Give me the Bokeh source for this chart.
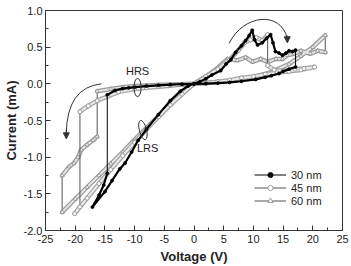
import numpy as np
from bokeh.plotting import figure
from bokeh.models import (Range1d, FixedTicker, PrintfTickFormatter, Legend,
                          LegendItem, Arrow, NormalHead)
from bokeh.embed import file_html
from bokeh.resources import INLINE
from bokeh.core.properties import value

# ---------------- data ----------------
v30 = [0, -2, -4, -6, -8, -10, -11, -12, -13.3, -14.6,
       -14.6, -15.2, -16, -17.1,
       -15, -13.8, -12.5, -11.6, -10.5, -9.4, -8, -6, -4, -2.3, -1, 0,
       1, 2, 3, 4.5, 5.4, 6.2, 7, 8, 8.7, 9.3, 9.8, 10.2, 10.7, 11.5, 12.2, 12.9,
       13.3, 13.7, 14.3, 14.9, 15.5, 16, 16.6, 17.1,
       17.1, 16, 15, 14.3, 13, 12, 10.4, 8, 6, 4, 2, 0]
i30 = [0, -0.005, -0.012, -0.02, -0.03, -0.045, -0.055, -0.065, -0.09, -0.15,
       -1.22, -1.38, -1.52, -1.68,
       -1.47, -1.32, -1.16, -1.08, -0.93, -0.77, -0.62, -0.42, -0.23, -0.1, -0.03, 0,
       0.03, 0.07, 0.12, 0.18, 0.27, 0.33, 0.43, 0.52, 0.59, 0.66, 0.73, 0.6, 0.53, 0.56, 0.62, 0.67,
       0.56, 0.44, 0.42, 0.39, 0.42, 0.45, 0.44, 0.46,
       0.23, 0.2, 0.17, 0.14, 0.11, 0.09, 0.06, 0.035, 0.02, 0.01, 0.003, 0]

v45 = [0, -2, -4, -6, -8, -10, -12.7, -14.5, -16.3, -17.8, -19.2,
       -19.2, -20.1,
       -18, -16, -14, -12, -10, -8, -6, -4, -2, 0,
       2, 4, 6, 7.5, 8.5, 9.5, 10.5, 11.5, 12.4,
       12.4, 13.5, 15, 17, 18.5, 20.3,
       18, 16, 14, 12, 10, 8, 6, 4, 2, 0]
i45 = [0, -0.01, -0.025, -0.04, -0.055, -0.07, -0.11, -0.17, -0.23, -0.3, -0.38,
       -1.68, -1.77,
       -1.56, -1.36, -1.17, -0.98, -0.8, -0.62, -0.45, -0.29, -0.14, 0,
       0.1, 0.2, 0.33, 0.46, 0.56, 0.6, 0.63, 0.59, 0.67,
       0.25, 0.19, 0.18, 0.2, 0.21, 0.23,
       0.19, 0.17, 0.15, 0.13, 0.1, 0.08, 0.05, 0.03, 0.01, 0]

v60 = [0, -2, -4, -6, -8, -10, -12, -14, -16.3,
       -16.3, -17, -18, -19, -19.5, -20.2, -21, -22.2,
       -22.2, -20, -18, -16, -14, -12, -10, -8, -6, -4, -2, 0,
       2, 4, 5.65, 7.3, 8.7, 9.85, 11.2, 12.4, 13.8, 14.9, 15.7, 16.8, 18, 19.6, 20.8, 22.1,
       22.1, 20, 18, 16, 13, 10, 7, 4, 2, 0]
i60 = [0, -0.005, -0.01, -0.015, -0.022, -0.03, -0.045, -0.07, -0.1,
       -0.72, -0.77, -0.83, -0.9, -1.0, -1.08, -1.13, -1.25,
       -1.75, -1.57, -1.41, -1.25, -1.09, -0.93, -0.76, -0.6, -0.44, -0.28, -0.13, 0,
       0.1, 0.22, 0.34, 0.32, 0.36, 0.3, 0.34, 0.3, 0.34, 0.34, 0.39, 0.41, 0.45, 0.41, 0.45, 0.43,
       0.66, 0.5, 0.38, 0.27, 0.16, 0.09, 0.05, 0.02, 0.01, 0]

series_labels = ["30 nm", "45 nm", "60 nm"]
x_ticks = [-25, -20, -15, -10, -5, 0, 5, 10, 15, 20, 25]
y_ticks = [-2.0, -1.5, -1.0, -0.5, 0.0, 0.5, 1.0]

FONT = "Liberation Sans"


def band(v, i):
    """Split a sweep at vertical jumps (equal consecutive voltages)."""
    bv, bi = [v[0]], [i[0]]
    for k in range(1, len(v)):
        if v[k] == v[k - 1]:
            bv.append(np.nan)
            bi.append(np.nan)
        bv.append(v[k])
        bi.append(i[k])
    return bv, bi


p = figure(width=351, height=266, x_range=Range1d(-25, 25), y_range=Range1d(-2, 1),
           output_backend="svg", toolbar_location=None,
           min_border_left=44, min_border_right=9, min_border_top=10, min_border_bottom=36)
p.grid.visible = False
p.outline_line_color = "#333333"
p.outline_line_width = 1
p.background_fill_color = "white"
p.border_fill_color = "white"

minor_x = [float(t) for t in np.arange(-25, 25.01, 2.5)]
minor_y = [float(t) for t in np.arange(-2, 1.001, 0.25)]
p.xaxis.ticker = FixedTicker(ticks=x_ticks, minor_ticks=minor_x)
p.yaxis.ticker = FixedTicker(ticks=y_ticks, minor_ticks=minor_y)
p.xaxis.formatter = PrintfTickFormatter(format="%d")
p.yaxis.formatter = PrintfTickFormatter(format="%.1f")
for ax in (p.xaxis[0], p.yaxis[0]):
    ax.axis_line_color = "#333333"
    ax.major_tick_line_color = "#333333"
    ax.minor_tick_line_color = "#333333"
    ax.major_tick_in = 5
    ax.major_tick_out = 0
    ax.minor_tick_in = 3
    ax.minor_tick_out = 0
    ax.major_label_text_font = FONT
    ax.major_label_text_font_size = "11px"
    ax.major_label_text_color = "#222222"
    ax.axis_label_text_font = FONT
    ax.axis_label_text_font_size = "13px"
    ax.axis_label_text_font_style = "bold"
    ax.axis_label_text_color = "#222222"
p.xaxis.major_label_standoff = 4
p.yaxis.major_label_standoff = 3
p.xaxis.axis_label = "Voltage (V)"
p.yaxis.axis_label = "Current (mA)"
p.xaxis.axis_label_standoff = 3
p.yaxis.axis_label_standoff = 2

legend_items = []
styles = [
    (v60, i60, "60 nm", "triangle", "white", "#8a8a8a", 4, "#9c9c9c", "#e4e4e4"),
    (v45, i45, "45 nm", "circle", "white", "#8a8a8a", 4, "#a4a4a4", "#ececec"),
    (v30, i30, "30 nm", "circle", "black", "black", 3, "black", None),
]
made = {}
for v, i, lab, mk, fc, lc, sz, outer, inner in styles:
    thin = p.line(v, i, line_color="#555555" if inner else "black", line_width=1)
    bv, bi = band(v, i)
    if inner:
        p.line(bv, bi, line_color=outer, line_width=4.5, line_join="round", line_cap="round")
        p.line(bv, bi, line_color=inner, line_width=2, line_join="round", line_cap="round")
    else:
        p.line(bv, bi, line_color=outer, line_width=2.2, line_join="round", line_cap="round")
    sc = p.scatter(v, i, marker=mk, size=sz, fill_color=fc, line_color=lc, line_width=0.8)
    made[lab] = (thin, sc)

for lab in series_labels:
    legend_items.append(LegendItem(label=lab, renderers=list(made[lab])))

legend = Legend(items=legend_items, location=(209, 23), padding=0, margin=0, spacing=0,
                glyph_height=13, label_height=13, glyph_width=32, label_standoff=5,
                border_line_alpha=0, background_fill_alpha=0,
                label_text_font=FONT, label_text_font_size="11px", label_text_color="#222222")
p.add_layout(legend)

# annotations: ellipses, labels, arrows
p.ellipse(x=[-9.5], y=[-0.05], width=1.2, height=0.25, fill_alpha=0,
          line_color="#333333", line_width=1)
p.ellipse(x=[-8.6], y=[-0.63], width=1.2, height=0.27, angle=0.25, fill_alpha=0,
          line_color="#333333", line_width=1)
p.text(x=[-9.5], y=[0.18], text=["HRS"], text_align="center", text_baseline="middle",
       text_font=value(FONT), text_font_size="11px", text_color="#222222")
p.text(x=[-9.6], y=[-0.87], text=["LRS"], text_align="left", text_baseline="middle",
       text_font=value(FONT), text_font_size="11px", text_color="#222222")

p.quadratic(x0=[-15.6], y0=[0.0], x1=[-21.5], y1=[-0.68], cx=[-21.4], cy=[-0.05],
            line_color="#333333", line_width=1)
p.add_layout(Arrow(x_start=-21.5, y_start=-0.62, x_end=-21.5, y_end=-0.75,
                   line_color="#333333", line_width=1,
                   end=NormalHead(size=6, fill_color="#333333", line_color="#333333")))
p.bezier(x0=[5.9], y0=[0.55], x1=[15.7], y1=[0.62], cx0=[8.3], cy0=[0.95],
         cx1=[14.6], cy1=[1.0], line_color="#333333", line_width=1)
p.add_layout(Arrow(x_start=15.68, y_start=0.66, x_end=15.72, y_end=0.56,
                   line_color="#333333", line_width=1,
                   end=NormalHead(size=6, fill_color="#333333", line_color="#333333")))

open("out.html", "w").write(file_html(p, INLINE))
